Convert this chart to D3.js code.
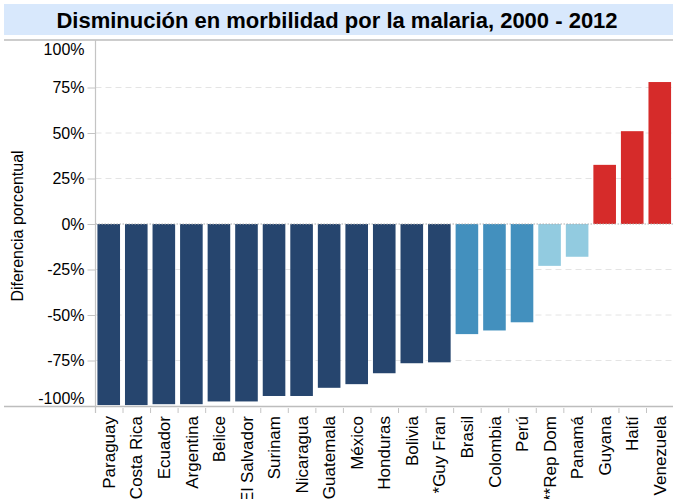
<!DOCTYPE html>
<html>
<head>
<meta charset="utf-8">
<title>Disminución en morbilidad por la malaria</title>
<script src="https://d3js.org/d3.v7.min.js"></script>
<style>
    body { margin: 0; background: #fff; }
    svg { font-family: "Liberation Sans", Arial, sans-serif; display: block; }
    .grid line { stroke: #e4e4e4; stroke-dasharray: 6,4; }
</style>
</head>
<body>
<script>
// chart data
var countries = ["Paraguay", "Costa Rica", "Ecuador", "Argentina", "Belice", "El Salvador",
    "Surinam", "Nicaragua", "Guatemala", "México", "Honduras", "Bolivia", "*Guy Fran",
    "Brasil", "Colombia", "Perú", "**Rep Dom", "Panamá", "Guyana", "Haití", "Venezuela"];
var change = [-99.5, -99.5, -99, -99, -97.5, -97.5, -94.5, -94.5, -90, -88, -82, -76.5, -76,
    -60.5, -58.5, -54, -23, -18, 32.5, 51, 78];
var group = ["a", "a", "a", "a", "a", "a", "a", "a", "a", "a", "a", "a", "a",
    "b", "b", "b", "c", "c", "d", "d", "d"];
var yTicks = [-100, -75, -50, -25, 0, 25, 50, 75, 100];
var title = "Disminución en morbilidad por la malaria, 2000 - 2012";
var yTitle = "Diferencia porcentual";

var W = 673, H = 499;
var plotLeft = 95.5, plotRight = 673, plotTop = 40, plotBottom = 406;

var svg = d3.select("body").append("svg")
    .attr("width", W)
    .attr("height", H);

// title band
svg.append("rect")
    .attr("x", 4).attr("y", 4)
    .attr("width", W - 4).attr("height", 31)
    .attr("fill", "#d8e8fc");
svg.append("text")
    .attr("x", 337).attr("y", 28)
    .attr("text-anchor", "middle")
    .attr("font-size", "22px")
    .attr("font-weight", "bold")
    .attr("fill", "#000")
    .text(title);

var x = d3.scaleBand()
    .domain(countries)
    .range([plotLeft, plotRight])
    .paddingInner(0.18)
    .paddingOuter(0.07);

var y = d3.scaleLinear()
    .domain([-100, 100])
    .range([plotBottom, plotTop + 2]);

var color = d3.scaleOrdinal()
    .domain(["a", "b", "c", "d"])
    .range(["#26456e", "#4390be", "#92cbe0", "#d62b2a"]);

// grid lines
svg.append("g").attr("class", "grid")
    .selectAll("line")
    .data(yTicks.filter(function (d) { return d !== 0 && Math.abs(d) !== 100; }))
    .enter().append("line")
    .attr("x1", plotLeft).attr("x2", plotRight)
    .attr("y1", function (d) { return y(d); })
    .attr("y2", function (d) { return y(d); });

// bars
svg.selectAll("rect.bar")
    .data(countries)
    .enter().append("rect")
    .attr("class", "bar")
    .attr("x", function (d) { return x(d); })
    .attr("width", x.bandwidth())
    .attr("y", function (d, i) { return y(Math.max(0, change[i])); })
    .attr("height", function (d, i) { return Math.abs(y(change[i]) - y(0)); })
    .attr("fill", function (d, i) { return color(group[i]); });

// zero line (dotted)
svg.append("line")
    .attr("x1", plotLeft).attr("x2", plotRight)
    .attr("y1", y(0)).attr("y2", y(0))
    .style("stroke", "#b0b0b0")
    .style("stroke-dasharray", "1.5,1.5");

// frame lines
svg.append("line")
    .attr("x1", 4).attr("x2", W)
    .attr("y1", plotTop).attr("y2", plotTop)
    .style("stroke", "#bdbdbd").style("stroke-width", 1.5);
svg.append("line")
    .attr("x1", 4).attr("x2", W)
    .attr("y1", plotBottom + 0.5).attr("y2", plotBottom + 0.5)
    .style("stroke", "#bdbdbd").style("stroke-width", 1.5);
svg.append("line")
    .attr("x1", plotLeft).attr("x2", plotLeft)
    .attr("y1", plotTop).attr("y2", plotBottom + 7)
    .style("stroke", "#c4c4c4").style("stroke-width", 1.2);

// y axis
var yAxis = d3.axisLeft(y).tickValues(yTicks)
    .tickFormat(function (d) { return d + "%"; })
    .tickSize(8).tickPadding(3);
var gy = svg.append("g")
    .attr("transform", "translate(" + plotLeft + ",0)")
    .call(yAxis);
gy.select(".domain").remove();
gy.selectAll(".tick line").style("stroke", "#c4c4c4")
    .style("display", function (d) { return Math.abs(d) === 100 ? "none" : null; });
gy.selectAll(".tick text")
    .attr("font-size", "16px")
    .attr("font-family", "Liberation Sans, Arial, sans-serif")
    .attr("fill", "#000")
    .attr("x", -11)
    .attr("dy", function (d) { return d === 100 ? "0.75em" : d === -100 ? "-0.18em" : "0.32em"; });

// x tick marks between bands
var step = x.step();
svg.append("g")
    .selectAll("line")
    .data(countries)
    .enter().append("line")
    .attr("x1", function (d) { return x(d) + x.bandwidth() + step * 0.09 + 0.5; })
    .attr("x2", function (d) { return x(d) + x.bandwidth() + step * 0.09 + 0.5; })
    .attr("y1", plotBottom + 2).attr("y2", plotBottom + 7)
    .style("stroke", "#c4c4c4");

// x labels
svg.append("g")
    .selectAll("text")
    .data(countries)
    .enter().append("text")
    .attr("transform", function (d) {
        return "translate(" + (x(d) + x.bandwidth() / 2) + "," + (plotBottom + 10) + ")rotate(-90)";
    })
    .attr("text-anchor", "end")
    .attr("dy", "0.36em")
    .attr("font-size", "17px")
    .attr("fill", "#000")
    .text(function (d) { return d; });

// y title
svg.append("text")
    .attr("transform", "translate(23,226)rotate(-90)")
    .attr("text-anchor", "middle")
    .attr("font-size", "16px")
    .attr("fill", "#000")
    .text(yTitle);
</script>
</body>
</html>
